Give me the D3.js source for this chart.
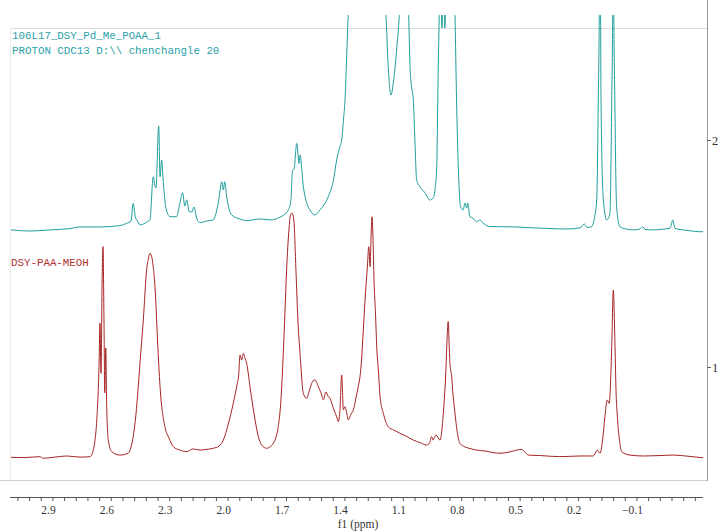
<!DOCTYPE html>
<html>
<head>
<meta charset="utf-8">
<script src="https://cdn.jsdelivr.net/npm/d3@7"></script>
<style>
  body { margin: 0; background: #fff; }
  svg { display: block; }
</style>
</head>
<body>
<div class="vis"></div>
<script>
// spectrum 2 (top, teal): [ppm, intensity on right-axis scale]
const tealPpm = [3.093, 2.995, 2.892, 2.790, 2.738, 2.636, 2.533, 2.498, 2.476, 2.465, 2.453, 2.446, 2.430, 2.394, 2.379,
  2.362, 2.353, 2.348, 2.334, 2.327, 2.319, 2.310, 2.297, 2.276, 2.242, 2.228, 2.211, 2.200, 2.190, 2.177, 2.163, 2.153,
  2.139, 2.122, 2.086, 2.054, 2.028, 2.010, 2.002, 1.995, 1.985, 1.959, 1.917, 1.882, 1.814, 1.762, 1.711, 1.668, 1.655,
  1.646, 1.639, 1.625, 1.613, 1.608, 1.591, 1.578, 1.557, 1.531, 1.506, 1.485, 1.463, 1.434, 1.420, 1.403, 1.394, 1.385,
  1.377, 1.369, 1.360, 1.264, 1.167, 1.155, 1.141, 1.129, 1.112, 1.098, 1.074, 1.050, 1.043, 1.036, 1.026, 1.018, 1.009,
  0.992, 0.966, 0.941, 0.924, 0.915, 0.906, 0.898, 0.893, 0.887, 0.879, 0.871, 0.864, 0.856, 0.833, 0.812, 0.804, 0.795,
  0.783, 0.770, 0.761, 0.752, 0.747, 0.735, 0.720, 0.701, 0.684, 0.668, 0.633, 0.581, 0.504, 0.411, 0.324, 0.239, 0.170,
  0.148, 0.134, 0.110, 0.096, 0.084, 0.076, 0.071, 0.068, 0.064, 0.062, 0.050, 0.033, 0.024, 0.016, 0.007, 0.002, -0.001,
  -0.004, -0.009, -0.018, -0.035, -0.066, -0.104, -0.138, -0.152, -0.164, -0.206, -0.241, -0.292, -0.300, -0.306, -0.313,
  -0.318, -0.359, -0.405, -0.446, -0.463];
const tealInt = [1.604, 1.599, 1.604, 1.610, 1.617, 1.617, 1.623, 1.633, 1.643, 1.721, 1.656, 1.648, 1.626, 1.639, 1.648,
  1.838, 1.797, 1.789, 2.062, 1.838, 1.912, 1.811, 1.700, 1.662, 1.662, 1.709, 1.768, 1.709, 1.736, 1.684, 1.683, 1.705,
  1.656, 1.636, 1.643, 1.648, 1.722, 1.816, 1.780, 1.816, 1.750, 1.670, 1.652, 1.645, 1.652, 1.648, 1.660, 1.692, 1.736,
  1.868, 1.871, 1.985, 1.897, 1.934, 1.794, 1.736, 1.692, 1.670, 1.692, 1.714, 1.750, 1.833, 1.912, 1.970, 2.000, 2.088,
  2.176, 2.352, 2.550, 3.057, 2.550, 2.323, 2.198, 2.251, 2.396, 2.550, 3.057, 2.550, 2.323, 2.242, 2.176, 2.000, 1.824,
  1.794, 1.767, 1.736, 1.745, 1.780, 1.882, 2.323, 2.550, 2.837, 2.493, 2.837, 2.493, 2.837, 3.057, 2.550, 2.176, 1.881,
  1.706, 1.692, 1.722, 1.700, 1.722, 1.662, 1.656, 1.640, 1.648, 1.634, 1.619, 1.618, 1.617, 1.613, 1.610, 1.608, 1.613,
  1.630, 1.615, 1.618, 1.656, 1.736, 2.176, 2.550, 3.057, 2.550, 2.176, 1.736, 1.648, 1.656, 1.678, 2.176, 2.550, 3.057,
  2.550, 2.176, 1.706, 1.618, 1.608, 1.604, 1.608, 1.618, 1.606, 1.604, 1.606, 1.611, 1.630, 1.648, 1.626,
  1.611, 1.604, 1.599, 1.596, 1.596];

// spectrum 1 (bottom, red)
const redPpm = [3.093, 3.021, 2.944, 2.927, 2.867, 2.807, 2.738, 2.687, 2.670, 2.661, 2.652, 2.639, 2.636, 2.630, 2.625,
  2.620, 2.615, 2.611, 2.606, 2.601, 2.593, 2.575, 2.533, 2.490, 2.476, 2.465, 2.451, 2.439, 2.425, 2.413, 2.396, 2.386,
  2.379, 2.370, 2.363, 2.353, 2.340, 2.327, 2.302, 2.281, 2.259, 2.225, 2.190, 2.158, 2.122, 2.091, 2.054, 2.024, 2.002,
  1.978, 1.951, 1.930, 1.924, 1.916, 1.908, 1.899, 1.891, 1.882, 1.865, 1.839, 1.824, 1.805, 1.779, 1.762, 1.745, 1.731,
  1.720, 1.706, 1.694, 1.685, 1.677, 1.665, 1.656, 1.649, 1.639, 1.629, 1.619, 1.608, 1.591, 1.574, 1.562, 1.548, 1.541,
  1.531, 1.514, 1.500, 1.488, 1.475, 1.463, 1.454, 1.445, 1.434, 1.420, 1.411, 1.403, 1.394, 1.390, 1.386, 1.377, 1.369,
  1.360, 1.346, 1.334, 1.321, 1.309, 1.300, 1.292, 1.283, 1.274, 1.262, 1.255, 1.248, 1.243, 1.238, 1.233, 1.228, 1.220,
  1.214, 1.205, 1.197, 1.180, 1.155, 1.126, 1.095, 1.064, 1.026, 0.992, 0.957, 0.943, 0.932, 0.925, 0.920, 0.910, 0.889,
  0.872, 0.858, 0.853, 0.847, 0.842, 0.838, 0.829, 0.822, 0.812, 0.802, 0.787, 0.761, 0.735, 0.701, 0.658, 0.617, 0.581,
  0.530, 0.495, 0.470, 0.453, 0.436, 0.376, 0.273, 0.170, 0.102, 0.081, 0.067, 0.054, 0.042, 0.030, 0.020, 0.007, -0.001,
  -0.010, -0.015, -0.022, -0.033, -0.044, -0.087, -0.155, -0.241, -0.309, -0.395, -0.463];
const redInt = [0.602, 0.601, 0.605, 0.598, 0.603, 0.608, 0.603, 0.605, 0.634, 0.678, 0.767, 1.062, 1.193, 0.972, 1.354,
  1.530, 1.207, 0.886, 1.084, 0.825, 0.678, 0.627, 0.612, 0.620, 0.648, 0.693, 0.789, 0.913, 1.075, 1.207, 1.427, 1.480,
  1.501, 1.486, 1.449, 1.354, 1.119, 0.913, 0.737, 0.687, 0.649, 0.634, 0.627, 0.639, 0.634, 0.637, 0.642, 0.652, 0.678,
  0.744, 0.840, 0.928, 0.956, 1.053, 1.031, 1.060, 1.040, 1.016, 0.913, 0.767, 0.700, 0.656, 0.642, 0.648, 0.664, 0.692,
  0.737, 0.855, 1.060, 1.251, 1.427, 1.603, 1.674, 1.678, 1.639, 1.427, 1.207, 1.060, 0.884, 0.862, 0.890, 0.928, 0.939,
  0.943, 0.913, 0.885, 0.855, 0.890, 0.869, 0.863, 0.840, 0.811, 0.781, 0.759, 0.811, 0.965, 0.899, 0.811, 0.825, 0.802,
  0.767, 0.793, 0.811, 0.863, 0.913, 0.957, 1.031, 1.163, 1.295, 1.442, 1.530, 1.442, 1.581, 1.662, 1.559, 1.383, 1.229,
  1.089, 0.978, 0.869, 0.796, 0.737, 0.722, 0.708, 0.696, 0.678, 0.667, 0.656, 0.665, 0.693, 0.678, 0.686, 0.700, 0.678,
  0.796, 1.001, 1.119, 1.200, 1.097, 1.016, 0.957, 0.877, 0.796, 0.722, 0.664, 0.648, 0.641, 0.634, 0.630, 0.623, 0.620,
  0.626, 0.634, 0.637, 0.626, 0.612, 0.610, 0.605, 0.608, 0.608, 0.634, 0.620, 0.678, 0.781, 0.855, 0.840, 1.089, 1.339,
  1.089, 0.899, 0.781, 0.678, 0.627, 0.612, 0.608, 0.610, 0.612, 0.606, 0.600];

const xLabels = [2.9, 2.6, 2.3, 2.0, 1.7, 1.4, 1.1, 0.8, 0.5, 0.2, -0.1];
const yLabels = [1, 2];
const tealTitle = ["106L17_DSY_Pd_Me_POAA_1", "PROTON CDC13 D:\\\\ chenchangle 20"];
const redTitle = "DSY-PAA-MEOH";

const width = 718, height = 531;
const tealColor = "#1f9e9e", redColor = "#a82424";

const svg = d3.select(".vis").append("svg")
    .attr("width", width)
    .attr("height", height);

// ppm axis runs right to left
const x = d3.scaleLinear().domain([3.1491, -0.4634]).range([0, 703.3]);
const y = d3.scaleLinear().domain([1, 2]).range([367, 140]);

// frame lines
svg.append("line").attr("x1", 10).attr("x2", 707).attr("y1", 28.5).attr("y2", 28.5)
    .style("stroke", "#dcdcdc");
svg.append("line").attr("x1", 0).attr("x2", 707).attr("y1", 480.5).attr("y2", 480.5)
    .style("stroke", "#cfcfcf");
svg.append("line").attr("x1", 10.5).attr("x2", 10.5).attr("y1", 28).attr("y2", 480)
    .style("stroke", "#ececec");

svg.append("clipPath").attr("id", "plotClip")
    .append("rect").attr("x", 10).attr("y", 15).attr("width", 697).attr("height", 465);

const line = d3.line()
    .x(d => x(d[0]))
    .y(d => y(d[1]))
    .curve(d3.curveMonotoneX);

const plot = svg.append("g").attr("clip-path", "url(#plotClip)");

plot.append("path")
    .datum(d3.zip(tealPpm, tealInt))
    .attr("d", line)
    .style("fill", "none")
    .style("stroke", tealColor)
    .style("stroke-width", 1);

plot.append("path")
    .datum(d3.zip(redPpm, redInt))
    .attr("d", line)
    .style("fill", "none")
    .style("stroke", redColor)
    .style("stroke-width", 1);

// titles
svg.selectAll(".tealTitle").data(tealTitle).enter().append("text")
    .attr("x", 12)
    .attr("y", (d, i) => 39 + i * 15)
    .text(d => d)
    .style("font-family", "Liberation Mono, monospace")
    .style("font-size", "10.8px")
    .style("fill", "#2a9fa8");

svg.append("text")
    .attr("x", 11)
    .attr("y", 266)
    .text(redTitle)
    .style("font-family", "Liberation Mono, monospace")
    .style("font-size", "10.8px")
    .style("fill", "#b03030");

// bottom ppm axis
const minorTicks = d3.range(-42, 311, 6).map(v => v / 100);
const xAxis = d3.axisBottom(x)
    .tickValues(minorTicks)
    .tickSize(4)
    .tickFormat("");
const gx = svg.append("g")
    .attr("transform", "translate(0,497)")
    .call(xAxis);
gx.select(".domain").attr("d", "M10,0.5H703").style("stroke", "#555");
gx.selectAll(".tick line").style("stroke", "#555");

svg.selectAll(".xlab").data(xLabels).enter().append("text")
    .attr("x", d => x(d))
    .attr("y", 514)
    .attr("text-anchor", "middle")
    .text(d => d3.format(".1f")(d).replace("-", "\u2212"))
    .style("font-family", "Liberation Serif, serif")
    .style("font-size", "11.5px")
    .style("fill", "#333");

svg.append("text")
    .attr("x", 358)
    .attr("y", 528)
    .attr("text-anchor", "middle")
    .text("f1 (ppm)")
    .style("font-family", "Liberation Serif, serif")
    .style("font-size", "11.5px")
    .style("fill", "#333");

// right intensity axis
svg.append("line").attr("x1", 707.5).attr("x2", 707.5).attr("y1", 0).attr("y2", 481)
    .style("stroke", "#999");
const yAxis = d3.axisRight(y).tickValues(yLabels).tickSize(4).tickPadding(1).tickFormat(d3.format("d"));
const gy = svg.append("g")
    .attr("transform", "translate(707,0)")
    .call(yAxis);
gy.select(".domain").remove();
gy.selectAll(".tick line").style("stroke", "#666");
gy.selectAll(".tick text")
    .style("font-family", "Liberation Serif, serif")
    .style("font-size", "12.5px")
    .style("fill", "#333");
</script>
</body>
</html>
